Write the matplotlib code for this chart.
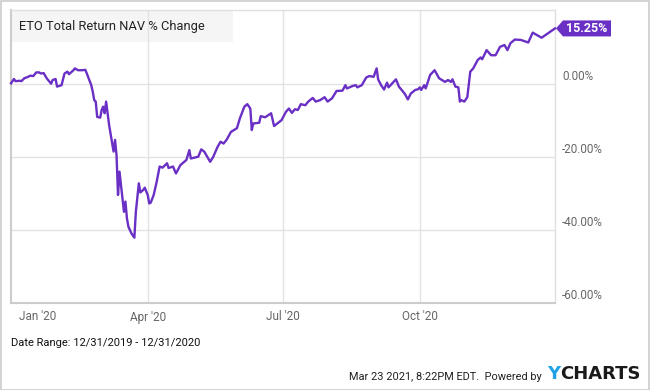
import matplotlib
matplotlib.use("Agg")
import matplotlib.pyplot as plt
import matplotlib.dates as mdates
from matplotlib.patches import Polygon, Rectangle
import numpy as np
import pandas as pd

# ---------------- data ----------------
base_date = "2019-12-31"
day_offsets = [0, 2, 3, 6, 7, 9, 11, 13, 15, 17, 19, 20, 22, 24, 27, 28, 30, 31, 34, 36,
               38, 39, 42, 43, 45, 48, 50, 51, 54, 55, 56, 57, 58, 60, 61, 62, 63, 64, 66, 69,
               70, 71, 72, 73, 74, 76, 77, 78, 79, 80, 81, 83, 84, 86, 87, 89, 90, 92, 93, 94,
               96, 98, 100, 102, 105, 106, 109, 111, 114, 118, 120, 121, 126, 128, 130, 134, 136, 139, 141, 143,
               145, 148, 152, 154, 157, 159, 161, 162, 163, 167, 168, 171, 175, 177, 182, 185, 187, 189, 191, 193,
               195, 198, 200, 203, 205, 208, 211, 213, 216, 219, 223, 225, 226, 230, 232, 233, 236, 239, 241, 244,
               246, 247, 249, 251, 253, 254, 259, 261, 265, 267, 269, 272, 274, 275, 276, 278, 279, 282, 285, 288,
               292, 294, 296, 297, 299, 301, 302, 303, 305, 307, 309, 311, 314, 316, 317, 320, 323, 326, 329, 332,
               334, 336, 339, 343, 348, 351, 357, 366]
nav_change = [0.2, 1.4, 0.8, 0.9, 0.8, 1.6, 1.9, 2.3, 2.2, 3.2, 3.2, 2.9, 3.0, 1.6, 0.1, 1.1, 1.4, -0.7, -0.3, 2.9,
              3.4, 2.7, 3.8, 4.3, 3.8, 3.8, 3.9, 2.9, -0.3, -2.1, -4.4, -4.8, -9.0, -9.2, -7.1, -6.2, -8.0, -4.8, -11.2, -18.5,
              -15.3, -19.5, -30.4, -24.0, -27.7, -35.0, -32.2, -36.8, -39.1, -40.0, -40.9, -42.1, -35.0, -27.2, -29.7, -29.0, -28.4, -30.4, -32.7, -32.5,
              -30.4, -26.8, -22.6, -22.9, -21.7, -23.0, -22.6, -24.5, -22.2, -20.8, -18.1, -20.4, -19.9, -17.9, -18.5, -21.3, -20.0, -17.2, -15.8, -16.3,
              -15.3, -13.1, -12.1, -9.4, -6.2, -5.5, -6.7, -12.6, -10.8, -10.6, -8.8, -9.1, -8.0, -11.5, -9.9, -7.6, -6.7, -7.9, -6.9, -7.1,
              -5.5, -5.8, -4.8, -3.8, -4.8, -4.4, -3.6, -4.8, -3.9, -1.9, -1.8, -0.3, -1.2, -0.5, -0.3, -0.9, -0.3, 1.8, 2.2, 2.0,
              4.3, 1.3, -0.3, -1.5, 0.4, -0.9, 1.3, -0.7, -2.7, -4.2, -2.6, -1.6, -1.4, -0.9, -1.6, -0.3, -1.2, 2.5, 3.8, 1.6,
              0.6, 1.1, 0.6, 1.3, -0.7, -0.9, -4.8, -4.4, -4.8, -3.6, 3.4, 4.3, 6.6, 7.3, 6.8, 9.3, 7.9, 7.9, 10.2, 10.7,
              9.3, 11.2, 12.2, 12.1, 11.4, 14.1, 12.7, 15.25]
y_ticks = [0, -20, -40, -60]
y_tick_labels = ["0.00%", "-20.00%", "-40.00%", "-60.00%"]
x_tick_dates = ["2020-01-01", "2020-04-01", "2020-07-01", "2020-10-01"]
x_tick_labels = ["Jan '20", "Apr '20", "Jul '20", "Oct '20"]
title = "ETO Total Return NAV % Change"
last_label = "15.25%"
date_range_text = "Date Range: 12/31/2019 - 12/31/2020"
footer_text = "Mar 23 2021, 8:22PM EDT.  Powered by"

dates = pd.Timestamp(base_date) + pd.to_timedelta(day_offsets, unit="D")
x_num = mdates.date2num(dates)
x_tick_num = mdates.date2num(pd.to_datetime(x_tick_dates))

# ---------------- figure ----------------
W, H = 650, 390
plt.rcParams['font.family'] = ['Roboto', 'DejaVu Sans']
fig = plt.figure(figsize=(W / 100, H / 100), dpi=100)
fig.patch.set_facecolor("white")

# outer border
fig.patches.append(Rectangle((0.5 / W, 0.5 / H), 1 - 1.5 / W, 1 - 1.5 / H, transform=fig.transFigure,
                             fill=False, edgecolor="#cccccc", lw=1.2))

L, R, T, B = 11, 555, 10, 303
ax = fig.add_axes([L / W, (H - B) / H, (R - L) / W, (B - T) / H])
ax.set_facecolor("white")

purple = "#6a2fc4"
ax.plot(x_num, nav_change, color=purple, lw=1.7, solid_joinstyle="round", zorder=3, clip_on=False)

ax.set_xlim(mdates.date2num(pd.Timestamp("2019-12-31")), mdates.date2num(pd.Timestamp("2020-12-31")))
ax.set_ylim(-60, 20.3)

ax.set_axisbelow(True)
ax.set_yticks(y_ticks)
ax.set_yticklabels([])
ax.set_xticks(x_tick_num)
ax.set_xticklabels([])
ax.tick_params(length=0)
ax.grid(True, color="#e2e2e2", lw=1)
ax.xaxis.get_gridlines()[0].set_visible(False)
ax.yaxis.get_gridlines()[3].set_visible(False)

for s in ["top", "right"]:
    ax.spines[s].set_color("#e0e0e0")
    ax.spines[s].set_linewidth(1)
for s in ["left", "bottom"]:
    ax.spines[s].set_color("#cccccc")
    ax.spines[s].set_linewidth(1.5)

# y labels (right side, above gridline)
for v, lab in zip(y_ticks, y_tick_labels):
    ax.annotate(lab, xy=(1, v), xycoords=ax.get_yaxis_transform(), xytext=(7, 1),
                textcoords="offset pixels", ha="left", va="bottom", fontsize=8.4, color="#666666")

# x labels
for i, (d, lab) in enumerate(zip(x_tick_num, x_tick_labels)):
    ax.annotate(lab, xy=(d, 0), xycoords=ax.get_xaxis_transform(),
                xytext=(25 if i == 0 else 0, -14), textcoords="offset pixels",
                ha="center", va="center", fontsize=8.5, color="#666666")

# title box
ax.add_patch(Rectangle((12 / W, (H - 42) / H), 221 / W, 31 / H, transform=fig.transFigure,
                       facecolor="#f5f5f5", edgecolor="none", zorder=0.2))
fig.text(19 / W, 1 - 26.5 / H, title, fontsize=9.3, color="#222222", ha="left", va="center", zorder=5)

# last value flag
fig.canvas.draw()
tx, ty = ax.transData.transform((x_num[-1], nav_change[-1]))
pts = np.array([[tx + 1, ty], [tx + 8, ty + 8], [tx + 56, ty + 8], [tx + 56, ty - 8], [tx + 8, ty - 8]])
pts_fig = fig.transFigure.inverted().transform(pts)
fig.patches.append(Polygon(pts_fig, closed=True, transform=fig.transFigure, facecolor=purple,
                           edgecolor="none", zorder=4))
cx, cy = fig.transFigure.inverted().transform((tx + 32, ty))
fig.text(cx, cy, last_label, color="white", fontsize=9, fontweight="bold", ha="center", va="center", zorder=6)

# footer
fig.text(11 / W, 1 - 343 / H, date_range_text, fontsize=8, color="#111111", ha="left", va="center")
fig.text(542 / W, 1 - 376.5 / H, footer_text, fontsize=7.9, color="#222222", ha="right", va="center")
fig.text(547 / W, 1 - 374 / H, "Y", fontsize=13, fontweight="bold", color="#1fa2e8", ha="left", va="center",
         family="DejaVu Sans")
fig.text(641 / W, 1 - 374 / H, "CHARTS", fontsize=13, fontweight="bold", color="#1a1a1a", ha="right", va="center",
         family="DejaVu Sans")

fig.savefig("out.png", dpi=100)
